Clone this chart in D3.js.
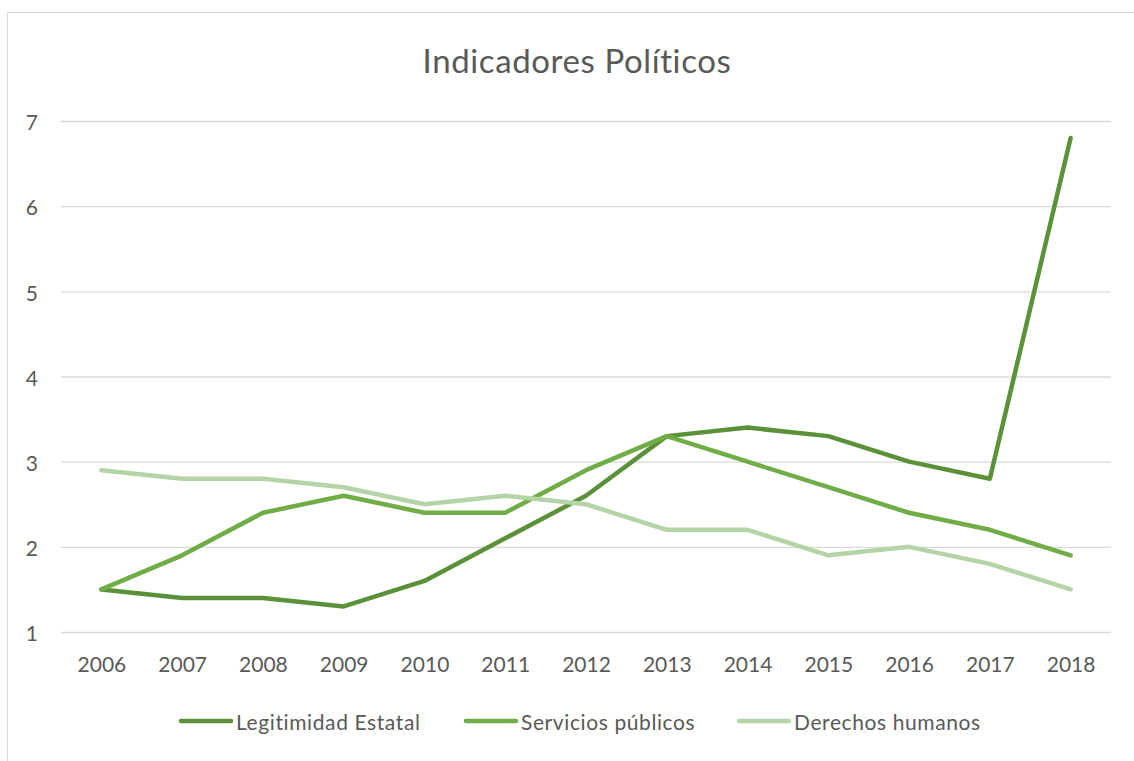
<!DOCTYPE html>
<html>
<head>
<meta charset="utf-8">
<script src="https://cdn.jsdelivr.net/npm/d3@7"></script>
<style>
html,body{margin:0;padding:0;background:#fff;}
svg{display:block;font-family:Lato,"Open Sans",sans-serif;}
</style>
</head>
<body>
<svg id="chart" width="1134" height="761"></svg>
<script>
const years = ["2006","2007","2008","2009","2010","2011","2012","2013","2014","2015","2016","2017","2018"];
const legitimidad = [1.5,1.4,1.4,1.3,1.6,2.1,2.6,3.3,3.4,3.3,3.0,2.8,6.8];
const servicios = [1.5,1.9,2.4,2.6,2.4,2.4,2.9,3.3,3.0,2.7,2.4,2.2,1.9];
const derechos = [2.9,2.8,2.8,2.7,2.5,2.6,2.5,2.2,2.2,1.9,2.0,1.8,1.5];
const yTicks = [1,2,3,4,5,6,7];
const seriesNames = ["Legitimidad Estatal","Servicios públicos","Derechos humanos"];
const colors = ["#5b9239","#70ad47","#b4d4a6"];
const title = "Indicadores Políticos";

const series = [legitimidad, servicios, derechos];
const svg = d3.select("#chart");
const FONT = "Lato,'Open Sans',sans-serif";

// frame
svg.append("rect").attr("x",7.5).attr("y",12.5).attr("width",1140).attr("height",760)
  .attr("fill","none").attr("stroke","#d9d9d9").attr("stroke-width",1);

const x = d3.scalePoint().domain(years).range([61,1111]).padding(0.5);
const y = d3.scaleLinear().domain([1,7]).range([632,121]);

// gridlines + y labels
const yAxis = d3.axisLeft(y).tickValues(yTicks).tickSize(-(1111-61)).tickPadding(23).tickFormat(d3.format("d"));
const gy = svg.append("g").attr("transform","translate(61,0)").call(yAxis);
gy.select(".domain").remove();
gy.selectAll(".tick line").attr("stroke","#d9d9d9").attr("stroke-width",1.3);
gy.selectAll(".tick text").attr("fill","#595959").attr("font-size",21).attr("font-family",FONT).attr("dy","0.42em");

// x axis labels
const xAxis = d3.axisBottom(x).tickSize(0).tickPadding(25);
const gx = svg.append("g").attr("transform","translate(0,632)").call(xAxis);
gx.select(".domain").remove();
gx.selectAll(".tick text").attr("fill","#595959").attr("font-size",21).attr("font-family",FONT);

// lines
const line = d3.line().x((d,i)=>x(years[i])).y(d=>y(d));
series.forEach((s,k)=>{
  svg.append("path").datum(s).attr("d",line).attr("fill","none")
    .attr("stroke",colors[k]).attr("stroke-width",4.5)
    .attr("stroke-linejoin","round").attr("stroke-linecap","round");
});

// title
svg.append("text").attr("x",577).attr("y",73).attr("text-anchor","middle")
  .attr("font-size",33).attr("letter-spacing",0.6).attr("fill","#595959").text(title);

// legend
const legendX = [179,464,737];
seriesNames.forEach((n,k)=>{
  const g = svg.append("g").attr("transform",`translate(${legendX[k]},721)`);
  g.append("line").attr("x1",2).attr("x2",52).attr("y1",0).attr("y2",0)
    .attr("stroke",colors[k]).attr("stroke-width",4.5).attr("stroke-linecap","round");
  g.append("text").attr("x",57).attr("y",9).attr("font-size",21).attr("letter-spacing",0.6)
    .attr("fill","#595959").text(n);
});
</script>
</body>
</html>
